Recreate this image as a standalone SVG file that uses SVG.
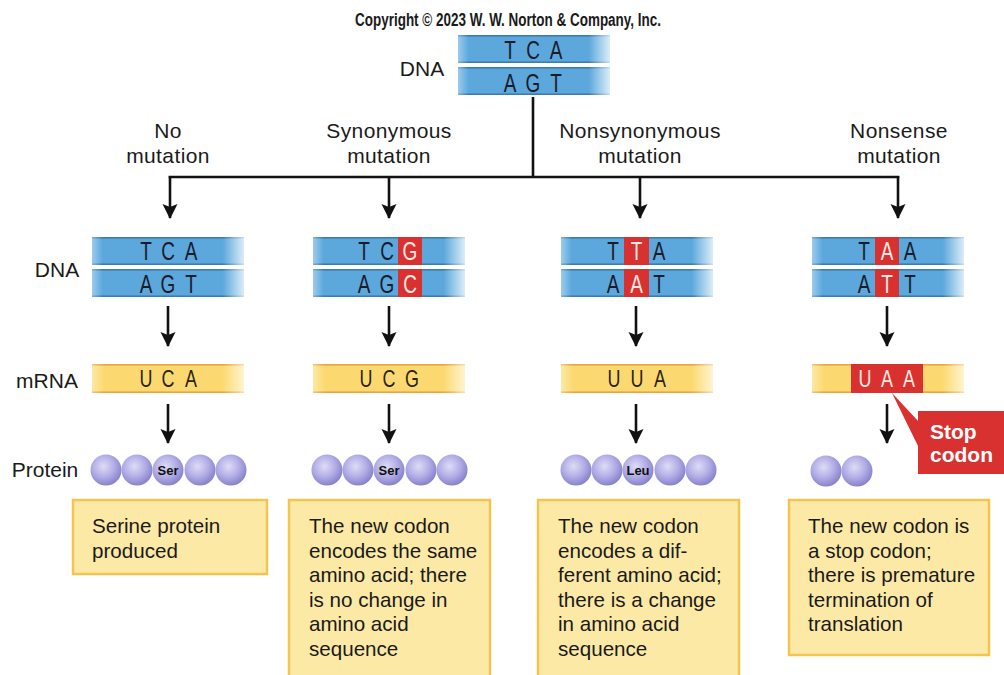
<svg xmlns="http://www.w3.org/2000/svg" xmlns:xlink="http://www.w3.org/1999/xlink" width="1004" height="675" viewBox="0 0 1004 675">
<style>
  .lbl{font-family:"Liberation Sans",Arial,sans-serif;font-size:21px;fill:#1a1a1a}
  .hdr{font-family:"Liberation Sans",Arial,sans-serif;font-size:21px;fill:#1a1a1a;text-anchor:middle;letter-spacing:0.4px}
  .base{font-family:"Liberation Sans",Arial,sans-serif;font-size:25px;fill:#1b1b2a;text-anchor:middle}
  .rbase{font-family:"Liberation Sans",Arial,sans-serif;font-size:25px;fill:#ffe9e6;text-anchor:middle}
  .rna{font-family:"Liberation Sans",Arial,sans-serif;font-size:23px;fill:#2a2418;text-anchor:middle}
  .box{fill:#fde9a6;stroke:#f1c54e;stroke-width:2.5}
  .btxt{font-family:"Liberation Sans",Arial,sans-serif;font-size:20.6px;fill:#1a1a1a}
  .aa{font-family:"Liberation Sans",Arial,sans-serif;font-size:13px;font-weight:bold;fill:#111;text-anchor:middle}
  .conn{stroke:#111;stroke-width:2.6;fill:none}
  .red{fill:#d9312f}
</style>
<defs>
  <linearGradient id="blueG" x1="0" y1="0" x2="1" y2="0">
    <stop offset="0" stop-color="#9ccbec"/>
    <stop offset="0.07" stop-color="#5ca8dc"/>
    <stop offset="0.86" stop-color="#5ca8dc"/>
    <stop offset="1" stop-color="#dcedf8"/>
  </linearGradient>
  <linearGradient id="blueEdge" x1="0" y1="0" x2="1" y2="0">
    <stop offset="0" stop-color="#7fb2d6"/>
    <stop offset="0.07" stop-color="#3b7db0"/>
    <stop offset="0.86" stop-color="#3b7db0"/>
    <stop offset="1" stop-color="#c8dff0"/>
  </linearGradient>
  <linearGradient id="yelG" x1="0" y1="0" x2="1" y2="0">
    <stop offset="0" stop-color="#fce9a6"/>
    <stop offset="0.08" stop-color="#fcd970"/>
    <stop offset="0.86" stop-color="#fcd970"/>
    <stop offset="1" stop-color="#fef4d2"/>
  </linearGradient>
  <linearGradient id="yelEdge" x1="0" y1="0" x2="1" y2="0">
    <stop offset="0" stop-color="#f3c878"/>
    <stop offset="0.08" stop-color="#eda43c"/>
    <stop offset="0.86" stop-color="#eda43c"/>
    <stop offset="1" stop-color="#f9dfb0"/>
  </linearGradient>
  <radialGradient id="ballG" cx="0.42" cy="0.38" r="0.62">
    <stop offset="0" stop-color="#dedcf6"/>
    <stop offset="0.55" stop-color="#b3afe6"/>
    <stop offset="1" stop-color="#8883cc"/>
  </radialGradient>
  <g id="strand">
    <rect x="0" y="0" width="152" height="28" fill="url(#blueG)"/>
    <rect x="0" y="0" width="152" height="1.6" fill="url(#blueEdge)"/>
    <rect x="0" y="26.4" width="152" height="1.6" fill="url(#blueEdge)"/>
  </g>
  <g id="dsDNA">
    <use xlink:href="#strand" href="#strand" x="0" y="0"/>
    <use xlink:href="#strand" href="#strand" x="0" y="32"/>
  </g>
  <g id="mrna">
    <rect x="0" y="0" width="152" height="29" fill="url(#yelG)"/>
    <rect x="0" y="0" width="152" height="1.6" fill="url(#yelEdge)"/>
    <rect x="0" y="27.4" width="152" height="1.6" fill="url(#yelEdge)"/>
  </g>
  <circle id="ball" r="15.5" fill="url(#ballG)"/>
  <marker id="ad" markerUnits="userSpaceOnUse" markerWidth="16" markerHeight="16" refX="8" refY="15" orient="0" viewBox="0 0 16 16">
    <path d="M0.5 1 L8 4 L15.5 1 L8 16 Z" fill="#111"/>
  </marker>
</defs>

<rect width="1004" height="675" fill="#ffffff"/>

<text x="508" y="26" textLength="306" lengthAdjust="spacingAndGlyphs" font-family="Liberation Sans, Arial, sans-serif" font-size="18" font-weight="bold" fill="#1a1a1a" text-anchor="middle">Copyright © 2023 W. W. Norton &amp; Company, Inc.</text>

<!-- top DNA -->
<g id="top-dna">
  <text class="lbl" x="422" y="76" text-anchor="middle">DNA</text>
  <use xlink:href="#dsDNA" href="#dsDNA" x="458" y="35"/>
  <g transform="translate(510,59) scale(0.76,1)"><text class="base">T</text></g>
  <g transform="translate(533,59) scale(0.76,1)"><text class="base">C</text></g>
  <g transform="translate(556,59) scale(0.76,1)"><text class="base">A</text></g>
  <g transform="translate(510,92) scale(0.76,1)"><text class="base">A</text></g>
  <g transform="translate(533,92) scale(0.76,1)"><text class="base">G</text></g>
  <g transform="translate(556,92) scale(0.76,1)"><text class="base">T</text></g>
</g>

<!-- headers -->
<g id="headers">
  <text class="hdr" x="168" y="138">No</text>
  <text class="hdr" x="168" y="163">mutation</text>
  <text class="hdr" x="389" y="138">Synonymous</text>
  <text class="hdr" x="389" y="163">mutation</text>
  <text class="hdr" x="640" y="138">Nonsynonymous</text>
  <text class="hdr" x="640" y="163">mutation</text>
  <text class="hdr" x="899" y="138">Nonsense</text>
  <text class="hdr" x="899" y="163">mutation</text>
</g>

<!-- row labels -->
<g id="row-labels">
  <text class="lbl" x="57" y="277" text-anchor="middle">DNA</text>
  <text class="lbl" x="47" y="388" text-anchor="middle">mRNA</text>
  <text class="lbl" x="45" y="477" text-anchor="middle">Protein</text>
</g>

<!-- connectors -->
<g id="connectors">
  <path class="conn" d="M533 97 V177"/>
  <path class="conn" d="M168.7 177 H899.3"/>
  <path class="conn" d="M170 176 V218" marker-end="url(#ad)"/>
  <path class="conn" d="M389 177 V218" marker-end="url(#ad)"/>
  <path class="conn" d="M640 177 V218" marker-end="url(#ad)"/>
  <path class="conn" d="M898 176 V218" marker-end="url(#ad)"/>

  <path class="conn" d="M168 306 V346" marker-end="url(#ad)"/>
  <path class="conn" d="M389 306 V346" marker-end="url(#ad)"/>
  <path class="conn" d="M636 306 V346" marker-end="url(#ad)"/>
  <path class="conn" d="M887 306 V346" marker-end="url(#ad)"/>

  <path class="conn" d="M168 404 V443" marker-end="url(#ad)"/>
  <path class="conn" d="M389 404 V443" marker-end="url(#ad)"/>
  <path class="conn" d="M636 404 V443" marker-end="url(#ad)"/>
  <path class="conn" d="M887 404 V443" marker-end="url(#ad)"/>
</g>

<!-- column 1: no mutation -->
<g id="col1">
  <use xlink:href="#dsDNA" href="#dsDNA" x="92" y="237"/>
  <g transform="translate(146,260) scale(0.76,1)"><text class="base">T</text></g>
  <g transform="translate(168,260) scale(0.76,1)"><text class="base">C</text></g>
  <g transform="translate(191,260) scale(0.76,1)"><text class="base">A</text></g>
  <g transform="translate(146,293) scale(0.76,1)"><text class="base">A</text></g>
  <g transform="translate(168,293) scale(0.76,1)"><text class="base">G</text></g>
  <g transform="translate(191,293) scale(0.76,1)"><text class="base">T</text></g>
  <use xlink:href="#mrna" href="#mrna" x="92" y="364"/>
  <g transform="translate(146,387) scale(0.78,1)"><text class="rna">U</text></g>
  <g transform="translate(168,387) scale(0.78,1)"><text class="rna">C</text></g>
  <g transform="translate(191,387) scale(0.78,1)"><text class="rna">A</text></g>
  <use xlink:href="#ball" href="#ball" x="106" y="470"/>
  <use xlink:href="#ball" href="#ball" x="137" y="470"/>
  <use xlink:href="#ball" href="#ball" x="168" y="470"/>
  <use xlink:href="#ball" href="#ball" x="200" y="470"/>
  <use xlink:href="#ball" href="#ball" x="231" y="470"/>
  <text class="aa" x="168" y="475">Ser</text>
  <rect class="box" x="73" y="500" width="194" height="74"/>
  <text class="btxt" x="92" y="533">Serine protein</text>
  <text class="btxt" x="92" y="557.5">produced</text>
</g>

<!-- column 2: synonymous -->
<g id="col2">
  <use xlink:href="#dsDNA" href="#dsDNA" x="313" y="237"/>
  <rect class="red" x="398" y="237" width="24" height="28"/>
  <rect class="red" x="398" y="269" width="24" height="28"/>
  <g transform="translate(364,260) scale(0.76,1)"><text class="base">T</text></g>
  <g transform="translate(387,260) scale(0.76,1)"><text class="base">C</text></g>
  <g transform="translate(410,260) scale(0.76,1)"><text class="rbase">G</text></g>
  <g transform="translate(364,293) scale(0.76,1)"><text class="base">A</text></g>
  <g transform="translate(387,293) scale(0.76,1)"><text class="base">G</text></g>
  <g transform="translate(410,293) scale(0.76,1)"><text class="rbase">C</text></g>
  <use xlink:href="#mrna" href="#mrna" x="313" y="364"/>
  <g transform="translate(366,387) scale(0.78,1)"><text class="rna">U</text></g>
  <g transform="translate(389,387) scale(0.78,1)"><text class="rna">C</text></g>
  <g transform="translate(412,387) scale(0.78,1)"><text class="rna">G</text></g>
  <use xlink:href="#ball" href="#ball" x="327" y="470"/>
  <use xlink:href="#ball" href="#ball" x="358" y="470"/>
  <use xlink:href="#ball" href="#ball" x="389" y="470"/>
  <use xlink:href="#ball" href="#ball" x="421" y="470"/>
  <use xlink:href="#ball" href="#ball" x="452" y="470"/>
  <text class="aa" x="389" y="475">Ser</text>
  <rect class="box" x="289" y="500" width="201" height="182"/>
  <text class="btxt" x="309" y="533">The new codon</text>
  <text class="btxt" x="309" y="557.5">encodes the same</text>
  <text class="btxt" x="309" y="582">amino acid; there</text>
  <text class="btxt" x="309" y="606.5">is no change in</text>
  <text class="btxt" x="309" y="631">amino acid</text>
  <text class="btxt" x="309" y="655.5">sequence</text>
</g>

<!-- column 3: nonsynonymous -->
<g id="col3">
  <use xlink:href="#dsDNA" href="#dsDNA" x="561" y="237"/>
  <rect class="red" x="624" y="237" width="25" height="28"/>
  <rect class="red" x="624" y="269" width="25" height="28"/>
  <g transform="translate(613,260) scale(0.76,1)"><text class="base">T</text></g>
  <g transform="translate(636.5,260) scale(0.76,1)"><text class="rbase">T</text></g>
  <g transform="translate(659,260) scale(0.76,1)"><text class="base">A</text></g>
  <g transform="translate(613,293) scale(0.76,1)"><text class="base">A</text></g>
  <g transform="translate(636.5,293) scale(0.76,1)"><text class="rbase">A</text></g>
  <g transform="translate(659,293) scale(0.76,1)"><text class="base">T</text></g>
  <use xlink:href="#mrna" href="#mrna" x="561" y="364"/>
  <g transform="translate(614,387) scale(0.78,1)"><text class="rna">U</text></g>
  <g transform="translate(637,387) scale(0.78,1)"><text class="rna">U</text></g>
  <g transform="translate(660,387) scale(0.78,1)"><text class="rna">A</text></g>
  <use xlink:href="#ball" href="#ball" x="576" y="470"/>
  <use xlink:href="#ball" href="#ball" x="607" y="470"/>
  <use xlink:href="#ball" href="#ball" x="638" y="470"/>
  <use xlink:href="#ball" href="#ball" x="670" y="470"/>
  <use xlink:href="#ball" href="#ball" x="701" y="470"/>
  <text class="aa" x="638" y="475">Leu</text>
  <rect class="box" x="538" y="500" width="201" height="182"/>
  <text class="btxt" x="558" y="533">The new codon</text>
  <text class="btxt" x="558" y="557.5">encodes a dif-</text>
  <text class="btxt" x="558" y="582">ferent amino acid;</text>
  <text class="btxt" x="558" y="606.5">there is a change</text>
  <text class="btxt" x="558" y="631">in amino acid</text>
  <text class="btxt" x="558" y="655.5">sequence</text>
</g>

<!-- column 4: nonsense -->
<g id="col4">
  <use xlink:href="#dsDNA" href="#dsDNA" x="812" y="237"/>
  <rect class="red" x="875" y="237" width="24" height="28"/>
  <rect class="red" x="875" y="269" width="24" height="28"/>
  <g transform="translate(864,260) scale(0.76,1)"><text class="base">T</text></g>
  <g transform="translate(887,260) scale(0.76,1)"><text class="rbase">A</text></g>
  <g transform="translate(910,260) scale(0.76,1)"><text class="base">A</text></g>
  <g transform="translate(864,293) scale(0.76,1)"><text class="base">A</text></g>
  <g transform="translate(887,293) scale(0.76,1)"><text class="rbase">T</text></g>
  <g transform="translate(910,293) scale(0.76,1)"><text class="base">T</text></g>
  <use xlink:href="#mrna" href="#mrna" x="812" y="364"/>
  <rect class="red" x="851" y="364" width="72" height="29"/>
  <g transform="translate(865,387) scale(0.78,1)"><text class="rna" style="fill:#ffe9e6">U</text></g>
  <g transform="translate(887,387) scale(0.78,1)"><text class="rna" style="fill:#ffe9e6">A</text></g>
  <g transform="translate(909,387) scale(0.78,1)"><text class="rna" style="fill:#ffe9e6">A</text></g>
  <use xlink:href="#ball" href="#ball" x="826" y="471"/>
  <use xlink:href="#ball" href="#ball" x="857" y="471"/>
  <rect class="box" x="789" y="500" width="200" height="155"/>
  <text class="btxt" x="808" y="533">The new codon is</text>
  <text class="btxt" x="808" y="557.5">a stop codon;</text>
  <text class="btxt" x="808" y="582">there is premature</text>
  <text class="btxt" x="808" y="606.5">termination of</text>
  <text class="btxt" x="808" y="631">translation</text>
</g>

<!-- stop codon callout -->
<g id="stop-callout">
  <polygon class="red" points="892,393 919,422 919,448"/>
  <rect class="red" x="918" y="411" width="86" height="63"/>
  <text x="930" y="439" font-family="Liberation Sans, Arial, sans-serif" font-size="21" font-weight="bold" fill="#ffffff">Stop</text>
  <text x="930" y="462" font-family="Liberation Sans, Arial, sans-serif" font-size="21" font-weight="bold" fill="#ffffff">codon</text>
</g>
</svg>
